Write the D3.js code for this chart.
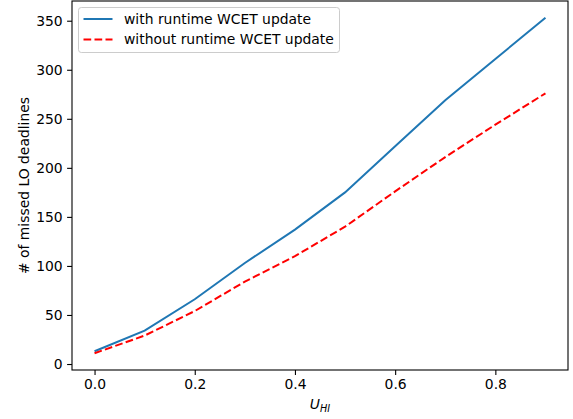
<!DOCTYPE html>
<html>
<head>
<meta charset="utf-8">
<script src="https://cdn.jsdelivr.net/npm/d3@7"></script>
<style>
  body { margin: 0; background: #fff; }
  svg { display: block; font-family: "DejaVu Sans", sans-serif; }
</style>
</head>
<body>
<div class="canvas"></div>
<script>
// values
const uHI = [0.0, 0.1, 0.2, 0.3, 0.4, 0.5, 0.6, 0.7, 0.8, 0.9];
const withUpdate = [13, 34, 66, 103, 137, 175, 222, 269, 311, 353];
const withoutUpdate = [11, 29, 54, 84, 110, 140, 176, 211, 244, 276];
const seriesNames = ["with runtime WCET update", "without runtime WCET update"];
const xTicks = [0.0, 0.2, 0.4, 0.6, 0.8];
const yTicks = [0, 50, 100, 150, 200, 250, 300, 350];

const W = 573, H = 419;
const margin = { left: 72, right: 5, top: 1, bottom: 49 };
const fs = 13.9;

const svg = d3.select(".canvas").append("svg").attr("width", W).attr("height", H);

// matplotlib style 5% margins
let xMin = d3.min(uHI), xMax = d3.max(uHI);
let xPad = (xMax - xMin) * 0.05;
let allY = withUpdate.concat(withoutUpdate);
let yMin = d3.min(allY), yMax = d3.max(allY);
let yPad = (yMax - yMin) * 0.05;

const x = d3.scaleLinear().domain([xMin - xPad, xMax + xPad]).range([margin.left, W - margin.right]);
const y = d3.scaleLinear().domain([yMin - yPad, yMax + yPad]).range([H - margin.bottom, margin.top]);

const series = [
  { name: seriesNames[0], values: withUpdate, color: "#1f77b4", dash: null },
  { name: seriesNames[1], values: withoutUpdate, color: "#ff0000", dash: "7.7,3.3" }
];

const line = d3.line().x((d, i) => x(uHI[i])).y(d => y(d));

series.forEach(s => {
  svg.append("path")
    .datum(s.values)
    .attr("d", line)
    .attr("fill", "none")
    .attr("stroke", s.color)
    .attr("stroke-width", 2)
    .attr("stroke-dasharray", s.dash);
});

// axes
const xAxis = svg.append("g")
  .attr("transform", `translate(0,${H - margin.bottom})`)
  .call(d3.axisBottom(x).tickValues(xTicks).tickFormat(d3.format(".1f")).tickSizeOuter(0).tickSize(4.9).tickPadding(4.4));
const yAxis = svg.append("g")
  .attr("transform", `translate(${margin.left},0)`)
  .call(d3.axisLeft(y).tickValues(yTicks).tickFormat(d3.format("d")).tickSizeOuter(0).tickSize(4.9).tickPadding(4.4));

[xAxis, yAxis].forEach(a => {
  a.select(".domain").remove();
  a.selectAll("line").attr("stroke", "#000").attr("stroke-width", 1.1);
  a.selectAll("text").attr("fill", "#000").style("font-size", fs + "px").style("font-family", "DejaVu Sans");
});

// frame
svg.append("rect")
  .attr("x", margin.left).attr("y", margin.top)
  .attr("width", W - margin.left - margin.right)
  .attr("height", H - margin.top - margin.bottom)
  .attr("fill", "none").attr("stroke", "#000").attr("stroke-width", 1.1);

// axis labels
const xl = svg.append("text")
  .attr("x", (margin.left + W - margin.right) / 2)
  .attr("y", 409)
  .attr("text-anchor", "middle")
  .style("font-size", fs + "px")
  .style("font-style", "italic");
xl.append("tspan").text("U");
xl.append("tspan").attr("dy", 2.8).style("font-size", (fs * 0.7) + "px").text("HI");

svg.append("text")
  .attr("transform", `translate(28.5,${(margin.top + H - margin.bottom) / 2}) rotate(-90)`)
  .attr("text-anchor", "middle")
  .style("font-size", fs + "px")
  .text("# of missed LO deadlines");

// legend
const lg = svg.append("g");
lg.append("rect")
  .attr("x", 78.5).attr("y", 7.5).attr("width", 261).attr("height", 45)
  .attr("rx", 2.8)
  .attr("fill", "#fff").attr("fill-opacity", 0.8)
  .attr("stroke", "#cccccc").attr("stroke-width", 1);
series.forEach((s, i) => {
  let ly = 19 + i * 20.5;
  lg.append("line")
    .attr("x1", 83.5).attr("x2", 112.5).attr("y1", ly).attr("y2", ly)
    .attr("stroke", s.color).attr("stroke-width", 2)
    .attr("stroke-dasharray", s.dash);
  lg.append("text")
    .attr("x", 124).attr("y", ly).attr("dy", "0.35em")
    .style("font-size", fs + "px")
    .text(s.name);
});
</script>
</body>
</html>
